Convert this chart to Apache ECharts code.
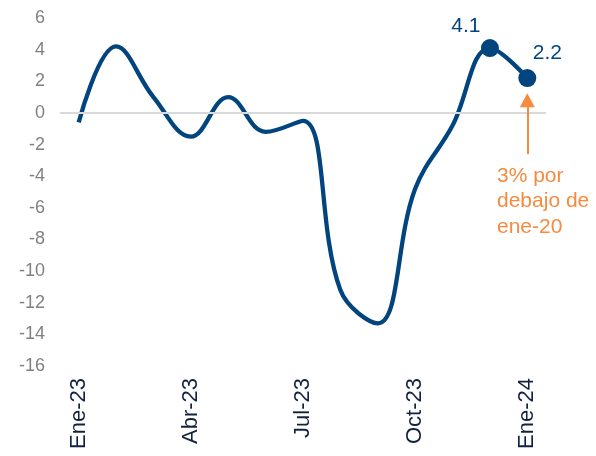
<!DOCTYPE html>
<html>
<head>
<meta charset="utf-8">
<script src="https://cdn.jsdelivr.net/npm/echarts@6/dist/echarts.min.js"></script>
<style>
html,body{margin:0;padding:0;background:#fff;}
#c{width:596px;height:456px;}
</style>
</head>
<body>
<div id="c"></div>
<script>
var categories = ['Ene-23','Feb-23','Mar-23','Abr-23','May-23','Jun-23','Jul-23','Ago-23','Sep-23','Oct-23','Nov-23','Dic-23','Ene-24'];
var values = [-0.6, 4.2, 1.0, -1.5, 1.0, -1.2, -0.5, -11.2, -13.3, -4.8, -0.8, 4.1, 2.2];
var yTicks = {min: -16, max: 6, interval: 2};
var annotationText = '3% por\ndebajo de\nene-20';
var arrowFrom = -2.6, arrowTo = 0.8;

var lineColor = '#02457E';
var orange = '#F68B3F';

var seriesData = values.map(function (v, i) {
  if (i === 11) {
    return {value: v, symbolSize: 18, label: {show: true, position: 'top', offset: [-24, 3], formatter: '{c}'}};
  }
  if (i === 12) {
    return {value: v, symbolSize: 18, label: {show: true, position: 'top', offset: [20, 0], formatter: '{c}'}};
  }
  return {value: v, symbolSize: 0};
});

var chart = echarts.init(document.getElementById('c'));
chart.setOption({
  animation: false,
  grid: {left: 60, right: 50, top: 18, bottom: 90},
  xAxis: {
    type: 'category',
    data: categories,
    boundaryGap: true,
    axisLine: {show: false, onZero: false},
    axisTick: {show: false},
    axisLabel: {
      interval: 2,
      rotate: 90,
      margin: 12,
      color: '#13213F',
      fontSize: 22,
      fontFamily: 'Liberation Sans, Arial, sans-serif'
    }
  },
  yAxis: {
    type: 'value',
    min: yTicks.min,
    max: yTicks.max,
    interval: yTicks.interval,
    axisLine: {show: false},
    axisTick: {show: false},
    splitLine: {show: false},
    axisLabel: {
      margin: 15,
      color: '#808080',
      fontSize: 18,
      fontFamily: 'Liberation Sans, Arial, sans-serif'
    }
  },
  series: [{
    type: 'line',
    data: seriesData,
    smooth: 0.4,
    symbol: 'circle',
    showAllSymbol: true,
    lineStyle: {color: lineColor, width: 4.3},
    itemStyle: {color: lineColor},
    label: {
      color: lineColor,
      fontSize: 21,
      fontFamily: 'Liberation Sans, Arial, sans-serif'
    },
    z: 3,
    markLine: {
      silent: true,
      animation: false,
      symbol: ['none', 'none'],
      label: {show: false},
      data: [
        {yAxis: 0, lineStyle: {color: '#D9D9D9', width: 2, type: 'solid'}},
        [
          {coord: ['Ene-24', arrowFrom], symbol: 'none', lineStyle: {color: orange, width: 2, type: 'solid'}},
          {coord: ['Ene-24', arrowTo], symbol: 'triangle', symbolSize: [15, 14]}
        ]
      ]
    }
  }],
  graphic: [{
    type: 'text',
    left: 497,
    top: 163,
    style: {
      text: annotationText,
      fill: orange,
      fontSize: 21,
      lineHeight: 25.5,
      fontFamily: 'Liberation Sans, Arial, sans-serif',
      textAlign: 'left'
    }
  }]
});
</script>
</body>
</html>
